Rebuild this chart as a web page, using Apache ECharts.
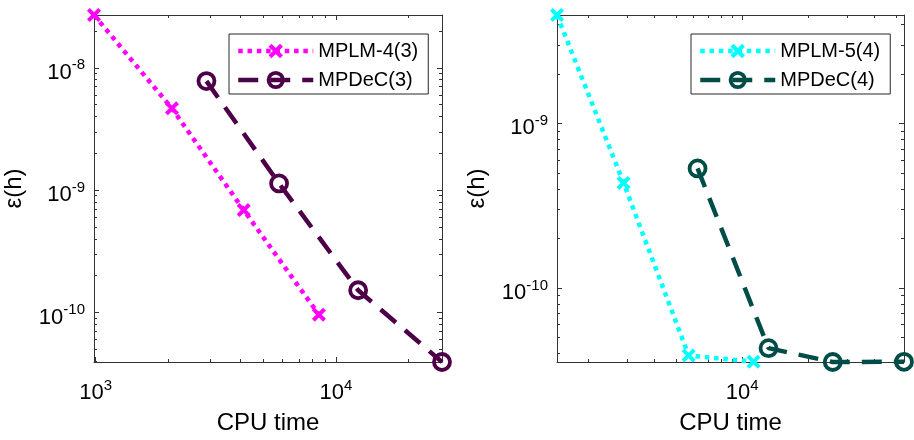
<!DOCTYPE html>
<html>
<head>
<meta charset="utf-8">
<script src="https://cdn.jsdelivr.net/npm/echarts@6/dist/echarts.min.js"></script>
<style>
  html, body { margin: 0; padding: 0; background: #fff; }
  #chart { width: 914px; height: 440px; }
</style>
</head>
<body>
<div id="chart"></div>
<script>
// Work–precision comparison: CPU time against error ε(h)

// Left panel: third-order schemes
const cpuMPLM43 = [984, 2076, 4130, 8490];
const errMPLM43 = [2.70e-8, 4.66e-9, 6.87e-10, 9.6e-11];
const cpuMPDeC3 = [2890, 5795, 12360, 27600];
const errMPDeC3 = [7.78e-9, 1.135e-9, 1.52e-10, 3.94e-11];

// Right panel: fourth-order schemes
const cpuMPLM54 = [1438, 2887, 5705, 11260];
const errMPLM54 = [4.56e-9, 4.35e-10, 3.89e-11, 3.56e-11];
const cpuMPDeC4 = [6265, 13170, 25800, 54400];
const errMPDeC4 = [5.33e-10, 4.31e-11, 3.55e-11, 3.56e-11];

// Decade exponents used for the log-axis ticks of each panel
const leftXDecades = [3, 4];
const leftYDecades = [-11, -10, -9, -8];
const rightXDecades = [3, 4];
const rightYDecades = [-11, -10, -9];

const FONT = '"Liberation Sans", Arial, Helvetica, sans-serif';
const AXIS_COLOR = '#333333';
const INK = '#000000';

const C_MAGENTA = '#ff00ff';
const C_PURPLE = '#4d0047';
const C_CYAN = '#00ffff';
const C_TEAL = '#004d47';

// Thick "x" marker
const CROSS = 'path://M0,4 L4,0 L10,6 L16,0 L20,4 L14,10 L20,16 L16,20 L10,14 L4,20 L0,16 L6,10 Z';

function ticksFor(decades) {
  const major = [], minor = [];
  decades.forEach(k => {
    const p = Math.pow(10, k);
    major.push(p);
    for (let m = 2; m <= 9; m++) minor.push(m * p);
  });
  return { major, minor };
}

function powLabel(v) {
  const e = Math.round(Math.log10(v));
  return '{b|10}{s|' + e + '}';
}

const RICH = {
  b: { fontSize: 22, fontFamily: FONT, color: INK, lineHeight: 30 },
  s: { fontSize: 15, fontFamily: FONT, color: INK, lineHeight: 15, verticalAlign: 'top' }
};

function extent(arrs) {
  const all = [].concat(...arrs);
  return [Math.min(...all), Math.max(...all)];
}

function buildAxes(gridIndex, xr, yr, xt, yt) {
  const base = (r) => ({
    type: 'log', logBase: 10, gridIndex, min: r[0], max: r[1],
    splitLine: { show: false }, minorTick: { show: false }, minorSplitLine: { show: false }
  });
  const line = { show: true, onZero: false, lineStyle: { color: AXIS_COLOR, width: 1 } };
  const tick = (vals, len) => ({ show: true, inside: true, length: len, customValues: vals,
    lineStyle: { color: AXIS_COLOR, width: 1 } });
  const labelBase = { show: true, formatter: powLabel, rich: RICH, fontSize: 22, fontFamily: FONT, color: INK };
  const xAxes = [
    Object.assign(base(xr), {
      position: 'bottom', axisLine: line, axisTick: tick(xt.major, 5),
      axisLabel: Object.assign({}, labelBase, { customValues: xt.major, margin: 16 }),
      name: 'CPU time', nameLocation: 'middle', nameGap: 49,
      nameTextStyle: { fontSize: 24, fontFamily: FONT, color: INK }
    }),
    Object.assign(base(xr), { position: 'bottom', axisLine: { show: false }, axisTick: tick(xt.minor, 3), axisLabel: { show: false } }),
    Object.assign(base(xr), { position: 'top', axisLine: line, axisTick: tick(xt.major, 5), axisLabel: { show: false } }),
    Object.assign(base(xr), { position: 'top', axisLine: { show: false }, axisTick: tick(xt.minor, 3), axisLabel: { show: false } })
  ];
  const yAxes = [
    Object.assign(base(yr), {
      position: 'left', axisLine: line, axisTick: tick(yt.major, 5),
      axisLabel: Object.assign({}, labelBase, { customValues: yt.major, margin: 9, align: 'right', verticalAlign: 'middle', padding: [10, 0, 0, 0] }),
      name: 'ε(h)', nameLocation: 'middle', nameGap: 68, nameRotate: 90,
      nameTextStyle: { fontSize: 24, fontFamily: FONT, color: INK }
    }),
    Object.assign(base(yr), { position: 'left', axisLine: { show: false }, axisTick: tick(yt.minor, 3), axisLabel: { show: false } }),
    Object.assign(base(yr), { position: 'right', axisLine: line, axisTick: tick(yt.major, 5), axisLabel: { show: false } }),
    Object.assign(base(yr), { position: 'right', axisLine: { show: false }, axisTick: tick(yt.minor, 3), axisLabel: { show: false } })
  ];
  return { xAxes, yAxes };
}

function pairs(xs, ys) { return xs.map((x, i) => [x, ys[i]]); }

function dottedSeries(name, xs, ys, color, xi, yi) {
  return {
    type: 'line', name, xAxisIndex: xi, yAxisIndex: yi, data: pairs(xs, ys),
    clip: false, z: 3,
    lineStyle: { color, width: 4.5, type: [4.5, 4.8], cap: 'butt' },
    symbol: CROSS, symbolSize: 14, showAllSymbol: true,
    itemStyle: { color, borderWidth: 0 }
  };
}

function dashedSeries(name, xs, ys, color, xi, yi) {
  return {
    type: 'line', name, xAxisIndex: xi, yAxisIndex: yi, data: pairs(xs, ys),
    clip: false, z: 3,
    lineStyle: { color, width: 4.5, type: [20, 12], cap: 'butt' },
    symbol: 'circle', symbolSize: 16, showAllSymbol: true,
    itemStyle: { color: 'rgba(0,0,0,0)', borderColor: color, borderWidth: 3.8 }
  };
}

const leftX = extent([cpuMPLM43, cpuMPDeC3]);
const leftY = extent([errMPLM43, errMPDeC3]);
const rightX = extent([cpuMPLM54, cpuMPDeC4]);
const rightY = extent([errMPLM54, errMPDeC4]);

const L = buildAxes(0, leftX, leftY, ticksFor(leftXDecades), ticksFor(leftYDecades));
const R = buildAxes(1, rightX, rightY, ticksFor(rightXDecades), ticksFor(rightYDecades));

function legendBox(left, names, widths) {
  return {
    orient: 'vertical', left, top: 34,
    padding: [7, 10, 4, 7], itemGap: 9,
    itemWidth: 75, itemHeight: 18,
    backgroundColor: '#ffffff', borderColor: '#262626', borderWidth: 1, borderRadius: 0,
    textStyle: { fontSize: 20, fontFamily: FONT, color: INK, lineHeight: 20 },
    lineStyle: { width: 4.5 },
    data: names.map((n, i) => ({ name: n, itemStyle: { borderWidth: widths[i] } })),
    selectedMode: false
  };
}

const chart = echarts.init(document.getElementById('chart'), null, { renderer: 'canvas' });
chart.setOption({
  animation: false,
  backgroundColor: '#ffffff',
  grid: [
    { left: 94, top: 15, width: 348, height: 347 },
    { left: 557, top: 15, width: 347, height: 347 }
  ],
  xAxis: L.xAxes.concat(R.xAxes),
  yAxis: L.yAxes.concat(R.yAxes),
  legend: [
    legendBox(229, ['MPLM-4(3)', 'MPDeC(3)'], [0, 3.8]),
    legendBox(691, ['MPLM-5(4)', 'MPDeC(4)'], [0, 3.8])
  ],
  series: [
    dottedSeries('MPLM-4(3)', cpuMPLM43, errMPLM43, C_MAGENTA, 0, 0),
    dashedSeries('MPDeC(3)', cpuMPDeC3, errMPDeC3, C_PURPLE, 0, 0),
    dottedSeries('MPLM-5(4)', cpuMPLM54, errMPLM54, C_CYAN, 4, 4),
    dashedSeries('MPDeC(4)', cpuMPDeC4, errMPDeC4, C_TEAL, 4, 4)
  ]
});
</script>
</body>
</html>
